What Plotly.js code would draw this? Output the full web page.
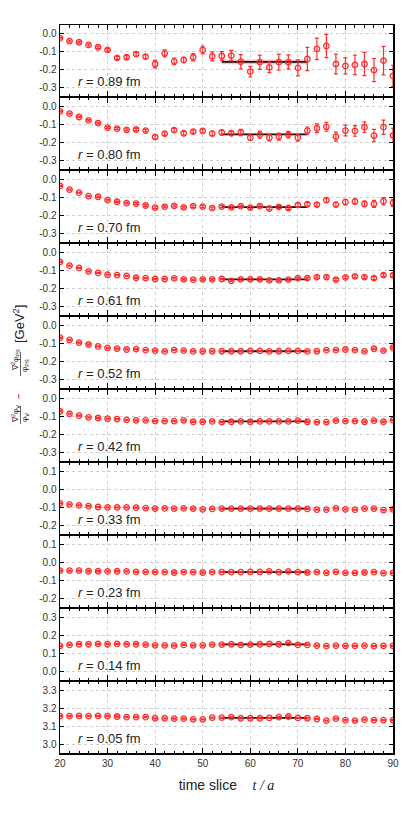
<!DOCTYPE html>
<html><head><meta charset="utf-8">
<script src="https://cdn.plot.ly/plotly-3.0.1.min.js"></script>
<style>html,body{margin:0;padding:0;background:#fff}#chart{width:407px;height:813px}</style>
</head><body><div id="chart"></div>
<script>
const tSlices = [20,22,24,26,28,30,32,34,36,38,40,42,44,46,48,50,52,54,56,58,60,62,64,66,68,70,72,74,76,78,80,82,84,86,88,90];
const rLabels = ['0.89','0.80','0.70','0.61','0.52','0.42','0.33','0.23','0.14','0.05'];

const vals089 = [-0.024,-0.040,-0.047,-0.062,-0.075,-0.090,-0.135,-0.131,-0.114,-0.128,-0.169,-0.109,-0.154,-0.146,-0.131,-0.090,-0.126,-0.124,-0.122,-0.156,-0.212,-0.159,-0.188,-0.159,-0.158,-0.191,-0.141,-0.084,-0.068,-0.169,-0.180,-0.174,-0.169,-0.203,-0.150,-0.236];
const err089 = [0.004,0.005,0.005,0.006,0.006,0.007,0.008,0.009,0.010,0.012,0.022,0.020,0.018,0.015,0.020,0.022,0.025,0.025,0.030,0.040,0.030,0.040,0.030,0.045,0.040,0.045,0.065,0.060,0.065,0.055,0.045,0.055,0.065,0.065,0.080,0.060];
const vals080 = [-0.025,-0.038,-0.057,-0.076,-0.091,-0.116,-0.122,-0.129,-0.127,-0.133,-0.169,-0.150,-0.131,-0.148,-0.139,-0.135,-0.150,-0.144,-0.148,-0.144,-0.173,-0.156,-0.173,-0.167,-0.156,-0.173,-0.133,-0.120,-0.112,-0.167,-0.133,-0.135,-0.114,-0.161,-0.114,-0.160];
const err080 = [0.003,0.003,0.004,0.004,0.005,0.005,0.005,0.006,0.006,0.007,0.012,0.010,0.010,0.010,0.010,0.012,0.012,0.012,0.012,0.018,0.015,0.020,0.018,0.020,0.018,0.020,0.020,0.025,0.025,0.025,0.030,0.030,0.030,0.035,0.040,0.040];
const vals070 = [-0.034,-0.055,-0.072,-0.091,-0.095,-0.114,-0.123,-0.131,-0.133,-0.144,-0.156,-0.150,-0.146,-0.154,-0.148,-0.150,-0.159,-0.150,-0.154,-0.148,-0.156,-0.148,-0.161,-0.152,-0.158,-0.141,-0.137,-0.139,-0.114,-0.139,-0.125,-0.122,-0.135,-0.135,-0.120,-0.129];
const err070 = [0.003,0.003,0.003,0.003,0.004,0.004,0.004,0.004,0.005,0.005,0.005,0.005,0.005,0.005,0.006,0.006,0.006,0.006,0.006,0.006,0.007,0.007,0.007,0.008,0.008,0.010,0.010,0.010,0.012,0.012,0.015,0.015,0.015,0.020,0.020,0.020];
const vals061 = [-0.051,-0.072,-0.085,-0.104,-0.113,-0.123,-0.125,-0.130,-0.140,-0.142,-0.147,-0.147,-0.143,-0.149,-0.151,-0.149,-0.149,-0.147,-0.157,-0.149,-0.149,-0.149,-0.155,-0.155,-0.151,-0.142,-0.142,-0.136,-0.136,-0.151,-0.138,-0.132,-0.136,-0.142,-0.125,-0.126];
const err061 = [0.003,0.003,0.003,0.003,0.003,0.003,0.003,0.003,0.003,0.003,0.004,0.004,0.004,0.004,0.004,0.004,0.004,0.004,0.004,0.005,0.005,0.005,0.005,0.005,0.005,0.006,0.006,0.006,0.006,0.007,0.007,0.007,0.007,0.008,0.008,0.008];
const vals052 = [-0.066,-0.079,-0.094,-0.105,-0.116,-0.124,-0.128,-0.133,-0.131,-0.137,-0.139,-0.144,-0.137,-0.139,-0.144,-0.143,-0.143,-0.143,-0.143,-0.143,-0.141,-0.141,-0.144,-0.143,-0.141,-0.141,-0.144,-0.143,-0.137,-0.137,-0.133,-0.137,-0.144,-0.129,-0.139,-0.122];
const err052 = [0.003,0.003,0.003,0.003,0.003,0.003,0.003,0.003,0.003,0.003,0.003,0.003,0.003,0.003,0.003,0.003,0.003,0.003,0.003,0.003,0.003,0.003,0.003,0.003,0.003,0.003,0.003,0.003,0.003,0.003,0.004,0.004,0.004,0.004,0.004,0.004];
const vals042 = [-0.070,-0.084,-0.095,-0.104,-0.108,-0.112,-0.114,-0.118,-0.121,-0.121,-0.125,-0.125,-0.125,-0.121,-0.129,-0.129,-0.127,-0.131,-0.129,-0.127,-0.129,-0.127,-0.127,-0.127,-0.127,-0.123,-0.129,-0.131,-0.131,-0.123,-0.125,-0.125,-0.129,-0.123,-0.129,-0.120];
const err042 = [0.003,0.003,0.003,0.003,0.003,0.003,0.003,0.003,0.003,0.003,0.003,0.003,0.003,0.003,0.003,0.003,0.003,0.003,0.003,0.003,0.003,0.003,0.003,0.003,0.003,0.003,0.003,0.003,0.003,0.003,0.003,0.003,0.003,0.003,0.003,0.003];
const vals033 = [-0.078,-0.083,-0.089,-0.093,-0.098,-0.100,-0.100,-0.100,-0.102,-0.104,-0.107,-0.106,-0.107,-0.106,-0.107,-0.111,-0.109,-0.107,-0.107,-0.107,-0.107,-0.107,-0.107,-0.107,-0.107,-0.107,-0.109,-0.113,-0.113,-0.106,-0.111,-0.113,-0.107,-0.107,-0.115,-0.111];
const err033 = [0.003,0.003,0.003,0.003,0.003,0.003,0.003,0.003,0.003,0.003,0.003,0.003,0.003,0.003,0.003,0.003,0.003,0.003,0.003,0.003,0.003,0.003,0.003,0.003,0.003,0.003,0.003,0.003,0.003,0.003,0.003,0.003,0.003,0.003,0.003,0.003];
const vals023 = [-0.045,-0.045,-0.045,-0.049,-0.049,-0.050,-0.049,-0.050,-0.052,-0.052,-0.054,-0.054,-0.056,-0.054,-0.054,-0.056,-0.054,-0.054,-0.054,-0.054,-0.052,-0.052,-0.050,-0.054,-0.050,-0.054,-0.056,-0.054,-0.058,-0.052,-0.058,-0.058,-0.056,-0.054,-0.060,-0.058];
const err023 = [0.003,0.003,0.003,0.003,0.003,0.003,0.003,0.003,0.003,0.003,0.003,0.003,0.003,0.003,0.003,0.003,0.003,0.003,0.003,0.003,0.003,0.003,0.003,0.003,0.003,0.003,0.003,0.003,0.003,0.003,0.003,0.003,0.003,0.003,0.003,0.003];
const vals014 = [0.142,0.147,0.151,0.151,0.153,0.151,0.153,0.151,0.151,0.149,0.145,0.145,0.143,0.147,0.145,0.145,0.149,0.149,0.151,0.147,0.149,0.151,0.153,0.151,0.157,0.147,0.147,0.143,0.140,0.143,0.142,0.142,0.143,0.140,0.142,0.142];
const err014 = [0.003,0.003,0.003,0.003,0.003,0.003,0.003,0.003,0.003,0.003,0.003,0.003,0.003,0.003,0.003,0.003,0.003,0.003,0.003,0.003,0.003,0.003,0.003,0.003,0.003,0.003,0.003,0.003,0.003,0.003,0.003,0.003,0.003,0.003,0.003,0.003];
const vals005 = [3.157,3.157,3.159,3.157,3.159,3.157,3.155,3.151,3.151,3.151,3.145,3.145,3.143,3.143,3.139,3.139,3.149,3.149,3.151,3.145,3.145,3.145,3.147,3.151,3.155,3.147,3.145,3.141,3.132,3.143,3.135,3.132,3.137,3.135,3.135,3.135];
const err005 = [0.003,0.003,0.003,0.003,0.003,0.003,0.003,0.003,0.003,0.003,0.003,0.003,0.003,0.003,0.003,0.003,0.003,0.003,0.003,0.003,0.003,0.003,0.003,0.003,0.003,0.003,0.003,0.003,0.003,0.003,0.003,0.003,0.003,0.003,0.003,0.003];

const fitStart = 54, fitEnd = 72;
const fitValues = [-0.157,-0.155,-0.153,-0.149,-0.143,-0.127,-0.107,-0.054,0.150,3.147];
const fitErrors = [0.013,0.004,0.003,0.002,0.002,0.002,0.002,0.002,0.002,0.002];

const yTickVals = [
  [-0.3,-0.2,-0.1,0.0],[-0.3,-0.2,-0.1,0.0],[-0.3,-0.2,-0.1,0.0],[-0.3,-0.2,-0.1,0.0],[-0.3,-0.2,-0.1,0.0],[-0.3,-0.2,-0.1,0.0],
  [-0.2,-0.1,0.0,0.1],[-0.2,-0.1,0.0,0.1],[0.0,0.1,0.2,0.3],[3.0,3.1,3.2,3.3]];
const yTickText = [
  ['-0.3','-0.2','-0.1','0.0'],['-0.3','-0.2','-0.1','0.0'],['-0.3','-0.2','-0.1','0.0'],['-0.3','-0.2','-0.1','0.0'],['-0.3','-0.2','-0.1','0.0'],['-0.3','-0.2','-0.1','0.0'],
  ['-0.2','-0.1','0.0','0.1'],['-0.2','-0.1','0.0','0.1'],['0.0','0.1','0.2','0.3'],['3.0','3.1','3.2','3.3']];
const xTickVals = [20,30,40,50,60,70,80,90];
const xTickText = ['20','30','40','50','60','70','80','90'];

const series = [vals089,vals080,vals070,vals061,vals052,vals042,vals033,vals023,vals014,vals005];
const errors = [err089,err080,err070,err061,err052,err042,err033,err023,err014,err005];

const N = 10, gap = 0.0024;
const h = (1 - (N-1)*gap)/N;
const RED = '#ff2e2e';
const traces = [];
const layout = {
  width: 407, height: 813,
  margin: {l: 60, r: 14, t: 25, b: 60},
  paper_bgcolor: '#fff', plot_bgcolor: '#fff',
  showlegend: false,
  font: {family: 'Liberation Sans, Arial, sans-serif', color: '#333'},
  annotations: [], shapes: []
};

for (let i = 0; i < N; i++) {
  const xn = i === 0 ? 'x' : 'x' + (i+1);
  const yn = i === 0 ? 'y' : 'y' + (i+1);
  const xk = i === 0 ? 'xaxis' : 'xaxis' + (i+1);
  const yk = i === 0 ? 'yaxis' : 'yaxis' + (i+1);
  const top = 1 - i*(h+gap), bot = top - h;
  const lo = yTickVals[i][0] - 0.05, hi = yTickVals[i][3] + 0.05;
  const v = fitValues[i], e = fitErrors[i];
  traces.push({x: [fitStart, fitEnd, fitEnd, fitStart], y: [v+e, v+e, v-e, v-e], xaxis: xn, yaxis: yn,
    type: 'scatter', mode: 'lines', fill: 'toself', fillcolor: 'rgba(240,110,110,0.45)', line: {width: 0}, hoverinfo: 'skip'});
  traces.push({x: [fitStart, fitEnd], y: [v, v], xaxis: xn, yaxis: yn, type: 'scatter', mode: 'lines',
    line: {color: '#111', width: 1.8}, hoverinfo: 'skip'});
  traces.push({x: tSlices, y: series[i], xaxis: xn, yaxis: yn, type: 'scatter', mode: 'markers',
    marker: {symbol: 'circle-open', size: 5.5, color: RED, line: {width: 1.3, color: RED}},
    error_y: {type: 'data', array: errors[i], visible: true, color: RED, thickness: 1.2, width: 2}});
  layout[xk] = {
    domain: [0, 1], anchor: yn, range: [20, 90], matches: i === 0 ? undefined : 'x',
    showline: true, linecolor: '#000', linewidth: 1.5, mirror: 'allticks',
    ticks: 'inside', ticklen: 5, tickwidth: 1, tickcolor: '#000',
    tickvals: xTickVals, ticktext: xTickText,
    showticklabels: i === N-1, tickfont: {size: 10, color: '#333'},
    showgrid: true, gridcolor: '#cfcfcf', griddash: 'dot', gridwidth: 1, zeroline: false,
    minor: {dtick: 2, tick0: 20, ticks: 'inside', ticklen: 2.5, tickcolor: '#000', showgrid: false}
  };
  layout[yk] = {
    domain: [bot, top], anchor: xn, range: [lo, hi],
    showline: true, linecolor: '#000', linewidth: 1.5, mirror: 'allticks',
    ticks: 'inside', ticklen: 4, tickwidth: 1, tickcolor: '#000',
    tickvals: yTickVals[i], ticktext: yTickText[i], tickfont: {size: 10, color: '#333'},
    showgrid: true, gridcolor: '#cfcfcf', griddash: 'dot', gridwidth: 1, zeroline: false
  };
  layout.annotations.push({xref: xn, yref: yn + ' domain', x: 23.4, y: 0.21, xanchor: 'left', yanchor: 'middle',
    text: '<i>r</i> = ' + rLabels[i] + ' fm', showarrow: false, font: {size: 13, color: '#222'}});
}
layout['xaxis' + N].title = {text: 'time slice &nbsp;&nbsp; <span style="font-family:\'Liberation Serif\',serif"><i>t / a</i></span>',
  font: {size: 14, color: '#222'}, standoff: 12};

// y-axis label pieces
const px = (p) => (p - 60) / 333;
const py = (p) => (753 - p) / 728;
const yl = [
  {t: '[GeV<sup>2</sup>]', x: 19, y: 324, s: 13},
  {t: '∇<sup>2</sup>φ<sub>PS</sub>', x: 15, y: 360, s: 8},
  {t: 'φ<sub>PS</sub>', x: 25, y: 366, s: 8},
  {t: '−', x: 18, y: 396, s: 10},
  {t: '∇<sup>2</sup>φ<sub>V</sub>', x: 15, y: 414, s: 8},
  {t: 'φ<sub>V</sub>', x: 25, y: 418, s: 8}
];
yl.forEach(o => layout.annotations.push({xref: 'paper', yref: 'paper', x: px(o.x), y: py(o.y),
  xanchor: 'center', yanchor: 'middle', text: o.t, textangle: -90, showarrow: false,
  font: {size: o.s, color: '#222'}}));
layout.shapes.push({type: 'line', xref: 'paper', yref: 'paper', x0: px(20.5), x1: px(20.5), y0: py(352), y1: py(376), line: {color: '#222', width: 0.7}});
layout.shapes.push({type: 'line', xref: 'paper', yref: 'paper', x0: px(20.5), x1: px(20.5), y0: py(406), y1: py(424), line: {color: '#222', width: 0.7}});

Plotly.newPlot('chart', traces, layout, {displayModeBar: false, staticPlot: true});
</script></body></html>
